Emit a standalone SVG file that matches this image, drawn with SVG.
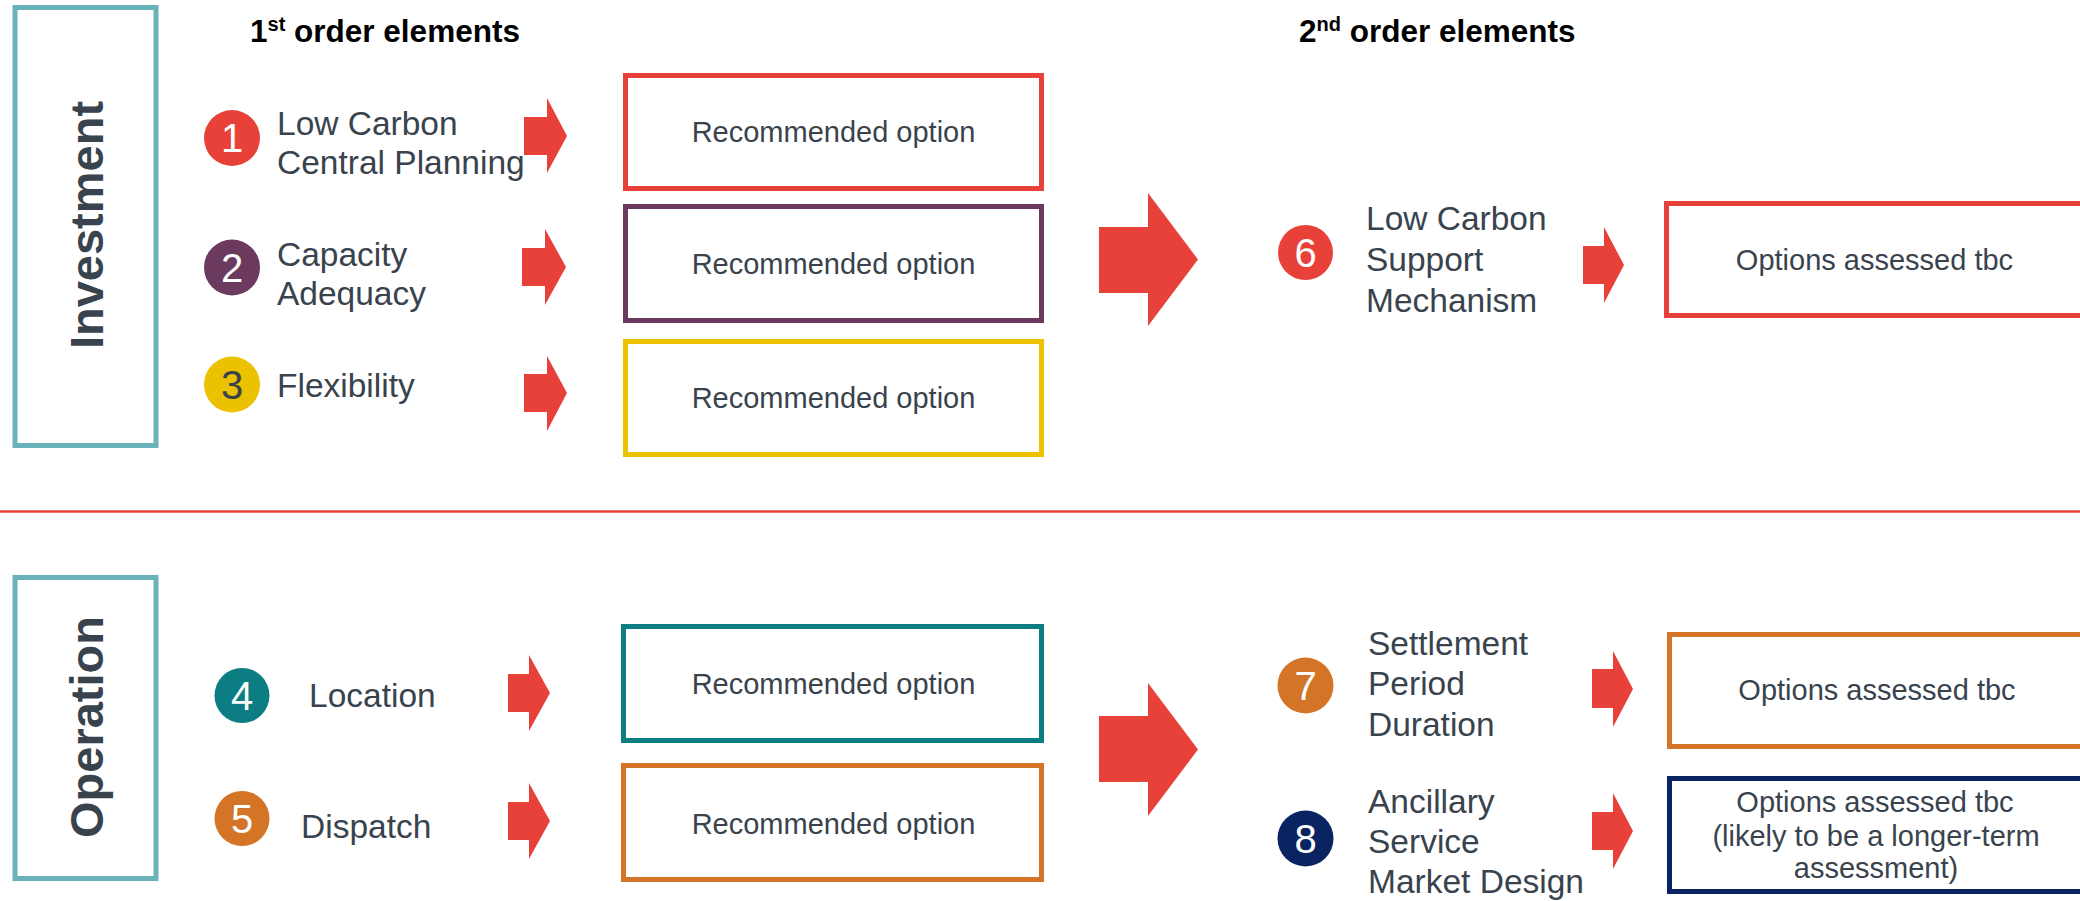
<svg xmlns="http://www.w3.org/2000/svg" width="2080" height="901" viewBox="0 0 2080 901">
<style>
.lbl{font-family:"Liberation Sans",Arial,sans-serif;font-size:33.5px;fill:#39434D}
.opt{font-family:"Liberation Sans",Arial,sans-serif;font-size:29px;fill:#39434D;text-anchor:middle}
.num{font-family:"Liberation Sans",Arial,sans-serif;font-size:40px;fill:#FFFFFF;text-anchor:middle}
.title{font-family:"Liberation Sans",Arial,sans-serif;font-size:31.5px;font-weight:bold;fill:#000000}
.side{font-family:"Liberation Sans",Arial,sans-serif;font-size:47px;font-weight:bold;fill:#39434D;text-anchor:middle}
.sbox{fill:#FFFFFF;stroke:#6AB2BA;stroke-width:5}
.box{fill:#FFFFFF;stroke-width:5}
.arrow{fill:#E8413A}
</style>
<rect x="0" y="0" width="2080" height="901" fill="#FFFFFF"/>

<g id="investment-label">
<rect class="sbox" x="15" y="7.5" width="141" height="438"/>
<text class="side" transform="translate(103,225) rotate(-90)">Investment</text>
</g>
<g id="operation-label">
<rect class="sbox" x="15" y="577.5" width="141" height="301"/>
<text class="side" transform="translate(103,727) rotate(-90)">Operation</text>
</g>

<g id="titles">
<text class="title" x="250" y="42">1<tspan font-size="20" dy="-11">st</tspan><tspan dy="11"> order elements</tspan></text>
<text class="title" x="1299" y="42">2<tspan font-size="20" dy="-11">nd</tspan><tspan dy="11"> order elements</tspan></text>
</g>

<line id="divider" x1="0" y1="511.5" x2="2080" y2="511.5" stroke="#E8413A" stroke-width="2.5"/>

<g id="n1">
<circle cx="232" cy="138" r="28" fill="#E8413A"/>
<text class="num" x="232" y="152">1</text>
<text class="lbl" x="277" y="135">Low Carbon</text>
<text class="lbl" x="277" y="174">Central Planning</text>
</g>
<g id="n2">
<circle cx="232" cy="267.5" r="28" fill="#6B3A5E"/>
<text class="num" x="232" y="281.5">2</text>
<text class="lbl" x="277" y="266">Capacity</text>
<text class="lbl" x="277" y="305">Adequacy</text>
</g>
<g id="n3">
<circle cx="232" cy="384.5" r="28" fill="#EBC100"/>
<text class="num" x="232" y="398.5" style="fill:#39434D">3</text>
<text class="lbl" x="277" y="397">Flexibility</text>
</g>

<g id="r1">
<rect class="box" x="625.5" y="75.5" width="416" height="113" stroke="#E8413A"/>
<text class="opt" x="833.5" y="142">Recommended option</text>
</g>
<g id="r2">
<rect class="box" x="625.5" y="206.5" width="416" height="114" stroke="#6B3A5E"/>
<text class="opt" x="833.5" y="274">Recommended option</text>
</g>
<g id="r3">
<rect class="box" x="625.5" y="341.5" width="416" height="113" stroke="#EBC100"/>
<text class="opt" x="833.5" y="408">Recommended option</text>
</g>

<g id="n6">
<circle cx="1305.5" cy="252.5" r="27.5" fill="#E8413A"/>
<text class="num" x="1305.5" y="266.5">6</text>
<text class="lbl" x="1366" y="230">Low Carbon</text>
<text class="lbl" x="1366" y="271">Support</text>
<text class="lbl" x="1366" y="312">Mechanism</text>
</g>
<g id="o6">
<rect class="box" x="1666.5" y="203.5" width="440" height="112" stroke="#E8413A"/>
<text class="opt" x="1874.5" y="270">Options assessed tbc</text>
</g>

<g id="n4">
<circle cx="242" cy="695.5" r="27.5" fill="#0B7D83"/>
<text class="num" x="242" y="709.5">4</text>
<text class="lbl" x="309" y="707">Location</text>
</g>
<g id="n5">
<circle cx="242" cy="818.5" r="27.5" fill="#D37427"/>
<text class="num" x="242" y="832.5">5</text>
<text class="lbl" x="301" y="838">Dispatch</text>
</g>

<g id="r4">
<rect class="box" x="623.5" y="626.5" width="418" height="114" stroke="#0B7D83"/>
<text class="opt" x="833.5" y="694">Recommended option</text>
</g>
<g id="r5">
<rect class="box" x="623.5" y="765.5" width="418" height="114" stroke="#D37427"/>
<text class="opt" x="833.5" y="834">Recommended option</text>
</g>

<g id="n7">
<circle cx="1305.5" cy="685.5" r="28" fill="#D37427"/>
<text class="num" x="1305.5" y="699.5">7</text>
<text class="lbl" x="1368" y="655">Settlement</text>
<text class="lbl" x="1368" y="695">Period</text>
<text class="lbl" x="1368" y="736">Duration</text>
</g>
<g id="n8">
<circle cx="1305.5" cy="838.5" r="28" fill="#0A2461"/>
<text class="num" x="1305.5" y="852.5">8</text>
<text class="lbl" x="1368" y="813">Ancillary</text>
<text class="lbl" x="1368" y="853">Service</text>
<text class="lbl" x="1368" y="893">Market Design</text>
</g>

<g id="o7">
<rect class="box" x="1669.5" y="634.5" width="440" height="112" stroke="#D37427"/>
<text class="opt" x="1877" y="700">Options assessed tbc</text>
</g>
<g id="o8">
<rect class="box" x="1669.5" y="778.5" width="440" height="113" stroke="#0A2461"/>
<text class="opt" x="1875" y="812">Options assessed tbc</text>
<text class="opt" x="1876" y="846">(likely to be a longer-term</text>
<text class="opt" x="1876" y="878">assessment)</text>
</g>

<g id="connectors">
<polygon class="arrow" points="524,117 547,117 547,98 567,136 547,173 547,155 524,155"/>
<polygon class="arrow" points="522,248 545,248 545,229 566,267 545,305 545,286 522,286"/>
<polygon class="arrow" points="524,374 547,374 547,356 567,393 547,431 547,412 524,412"/>
<polygon class="arrow" points="1099,227 1148,227 1148,193 1198,259.5 1148,326 1148,293 1099,293"/>
<polygon class="arrow" points="1583,246 1604,246 1604,227 1624,265 1604,303 1604,284 1583,284"/>
<polygon class="arrow" points="508,674 529,674 529,655 550,693 529,731 529,712 508,712"/>
<polygon class="arrow" points="508,802 529,802 529,783 550,821 529,859 529,840 508,840"/>
<polygon class="arrow" points="1099,716 1148,716 1148,683 1198,749.5 1148,816 1148,782 1099,782"/>
<polygon class="arrow" points="1592,669 1613,669 1613,651 1633,689 1613,727 1613,708 1592,708"/>
<polygon class="arrow" points="1592,812 1613,812 1613,793 1633,831 1613,869 1613,850 1592,850"/>
</g>
</svg>
